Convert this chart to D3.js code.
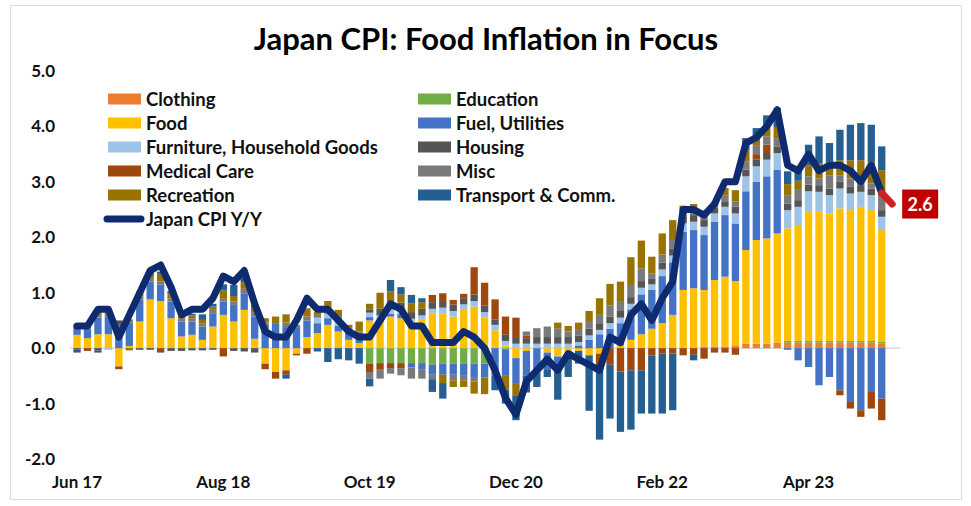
<!DOCTYPE html>
<html>
<head>
<meta charset="utf-8">
<script src="https://cdn.jsdelivr.net/npm/d3@7"></script>
<style>
  body { margin: 0; background: #fff; }
  text { font-family: Lato, "Open Sans", sans-serif; font-weight: 700; fill: #111; }
</style>
</head>
<body>
<svg id="chart" width="971" height="506"></svg>
<script>
// ---- Data: contributions to Japan CPI Y/Y (ppt), Jun 2017 – Nov 2023; headline to Dec 2023 ----
const seriesNames = ["Clothing", "Education", "Food", "Fuel, Utilities", "Furniture, Household Goods",
                     "Housing", "Medical Care", "Misc", "Recreation", "Transport & Comm."];
const seriesColors = ["#ED7D31", "#70AD47", "#FFC000", "#4472C4", "#9DC3E6",
                      "#555555", "#9E480E", "#7A7A7A", "#997300", "#255E91"];
const tickLabels = ["Jun 17", "Aug 18", "Oct 19", "Dec 20", "Feb 22", "Apr 23"];

const clothing = [0,0,0,0,0,0,0,0,0,0, 0,0,0,0,0,0,0,0,0,0, 0,0,0,0,0,0,0,0,0,0,
  0,0,0,0,0,0,0,0,0,0, 0,0,0,0,0,0,0,0,0,0, 0,0,0,0,0,0,0,0,0,0,
  .03,.03,.03,.05,.08,.08,.08,.10,.10,.10, .10,.10,.10,.10,.10,.10,.10,.08];
const education = [0,0,0,0,0,0,0,0,0,0, 0,0,0,0,0,0,0,0,0,0, 0,0,0,0,0,0,0,0,-.28,-.27,
  -.27,-.27,-.27,-.27,-.30,-.28,-.28,-.28,-.28,-.28, 0,-.02,0,0,0,0,0,0,0,0, 0,0,0,0,0,0,0,0,0,0,
  0,0,0,0,0,0,0,0,.03,.03, .03,.03,.03,.03,.03,.03,.03,.03];
const food = [.24,.18,.25,.25,-.33,.04,.48,.88,.85,.54, .21,.24,.15,.39,.60,.48,.69,.17,-.28,-.43,
  -.40,-.10,.20,.27,.42,.30,.15,.09,.50,.51, .57,.54,.45,.51,.63,.63,.57,.69,.75,.55,
  .32,.05,-.18,-.05,0,-.08,-.15,-.10,-.05,-.13, -.10,0,.05,.15,.25,.35,.45,.60,1.05,1.08,
  1.02,1.20,1.26,1.16,1.69,1.87,1.90,1.97,2.03,2.09, 2.33,2.33,2.30,2.39,2.36,2.42,2.36,2.02];
const fuel = [.16,.17,.30,.32,.42,.42,.40,.32,.30,.30, .27,.24,.24,.24,.24,.30,.30,.40,.42,.45,
  .38,.38,.30,.18,.12,.10,.12,.10,.06,0, .05,.08,-.08,-.12,-.18,-.20,-.20,-.22,-.24,-.25,
  -.50,-.48,-.45,-.45,-.45,-.30,-.20,-.08,.05,.15, .25,.35,.40,.55,.72,.70,.85,.95,1.05,1.05,
  .99,1.05,1.11,1.04,1.06,1.05,1.12,1.15,-.03,-.22, -.34,-.67,-.52,-.76,-.97,-1.12,-.79,-.91];
const furniture = [0,0,0,-.03,0,0,0,0,0,0, 0,0,0,0,0,0,0,0,0,0,
  0,0,0,.10,.08,.08,.05,.05,.08,.08, .08,.08,.08,.08,.08,.10,.10,.10,.10,.10,
  .10,.08,.08,.08,.08,.08,.08,.08,.06,.08, .08,.10,.10,.10,.12,.10,.12,.12,.15,.15,
  .15,.15,.15,.18,.27,.28,.30,.30,.33,.33, .37,.36,.33,.36,.30,.27,.27,.24];
const housing = [-.03,0,-.04,0,.08,0,-.03,-.03,0,-.05, -.05,-.04,-.04,-.03,0,-.05,-.06,-.08,0,0,
  0,0,0,0,0,0,0,0,.06,.12, .12,.12,.12,.12,.12,.12,.12,.10,.12,.12,
  .10,.12,.12,.10,.12,.12,.12,.12,.12,.12, .12,.12,.12,.12,.12,.10,.12,.12,.12,.12,
  .12,.11,.10,.12,.12,.12,.12,.12,.12,.12, .12,.12,.12,.12,.12,.12,.12,.12];
const medical = [0,-.05,0,0,-.05,0,0,0,-.08,0, 0,0,0,0,-.15,0,0,0,-.10,-.12,
  -.08,-.03,-.10,0,0,0,0,0,-.15,-.12, -.09,-.10,0,0,.13,.14,.08,.09,.49,.41,
  .36,.32,.35,.05,0,0,0,0,0,0, -.30,-.30,-.42,-.40,-.40,-.13,-.10,-.10,-.13,-.12,
  -.19,-.08,-.08,-.12,0,.10,.15,0,0,0, 0,0,0,-.09,-.12,-.12,-.30,-.39];
const misc = [.03,.03,.05,.05,0,.06,.05,.05,.05,.06, .05,.06,.06,.06,.05,.06,.08,.08,.04,0,
  .08,.04,.07,.05,.08,.10,.06,.06,-.12,-.16, -.10,-.12,-.20,-.16,-.08,0,-.10,-.08,-.08,0,
  0,0,0,.07,.16,.19,.16,.10,.10,.14, .15,.20,.18,.22,.23,.10,.15,.16,.10,.10,
  .10,.10,.10,.10,.15,.15,.15,.15,.15,.20, .15,.12,.24,.12,.15,.15,.09,.27];
const recreation = [0,0,.05,.05,0,-.04,.04,.05,.14,.08, .05,.05,.06,.06,.15,.10,.12,.08,.08,.12,
  .15,0,.15,.05,.15,.11,.04,.18,.10,.29, .20,.15,.16,.12,0,-.15,-.12,-.12,-.22,-.30,
  0,-.25,-.22,0,0,0,.10,.10,.13,.18, .30,.39,.35,.50,.50,.30,.38,.36,.10,.10,
  0,0,.14,.20,.20,.15,.20,.20,.20,.15, .20,.27,.24,.27,.33,.30,.39,.45];
const transport = [-.05,0,-.04,0,0,0,.05,.08,.04,.05, 0,.03,.10,.05,.11,.20,.08,.05,0,0,
  -.07,0,0,-.06,-.25,-.20,-.22,-.28,-.14,0, .21,.13,.15,.07,-.23,-.28,0,0,0,0,
  -.26,-.25,-.45,-.30,-.25,-.14,-.58,-.34,-.23,-1.00, -1.25,-.97,-1.09,-1.07,-.78,-1.05,-1.08,-1.02,0,-.10,
  0,0,0,0,.22,.17,.18,.34,.23,.20, .37,.49,.34,.55,.64,.67,.67,.43];
const cpiYoY = [0.4,0.4,0.7,0.7,0.2,0.6,1.0,
  1.4,1.5,1.1,0.6,0.7,0.7,0.9,1.3,1.2,1.4,0.8,0.3,
  0.2,0.2,0.5,0.9,0.7,0.7,0.5,0.3,0.2,0.2,0.5,0.8,
  0.7,0.4,0.4,0.1,0.1,0.1,0.3,0.2,0.0,-0.4,-0.9,-1.2,
  -0.6,-0.4,-0.2,-0.4,-0.1,-0.2,-0.3,-0.4,0.2,0.1,0.6,0.8,
  0.5,0.9,1.2,2.5,2.5,2.4,2.6,3.0,3.0,3.7,3.8,4.0,
  4.3,3.3,3.2,3.5,3.2,3.3,3.3,3.2,3.0,3.3,2.8,2.6];

const seriesValues = [clothing, education, food, fuel, furniture, housing, medical, misc, recreation, transport];

// Month categories Jun 2017 .. Dec 2023
const fmt = d3.timeFormat("%b %y");
const months = d3.timeMonth.range(new Date(2017, 5, 1), new Date(2024, 0, 1)).map(fmt);

// ---- Layout ----
const svg = d3.select("#chart");

svg.append("rect")
  .attr("x", 10.5).attr("y", 5.5).attr("width", 951).attr("height", 494)
  .attr("fill", "none").attr("stroke", "#dcdcdc");

const x = d3.scaleBand().domain(months).range([71.8, 897.4]).paddingInner(0.3).paddingOuter(0.15);
const y = d3.scaleLinear().domain([-2, 5]).range([459, 71]);

// Title
svg.append("text")
  .attr("x", 486).attr("y", 50).attr("text-anchor", "middle")
  .style("font-size", "31px").style("fill", "#000")
  .text("Japan CPI: Food Inflation in Focus");

// Axes
const yAxis = svg.append("g").attr("transform", "translate(55,0)")
  .call(d3.axisLeft(y).tickValues(d3.range(-2, 6)).tickSize(0).tickPadding(0)
        .tickFormat(d => d.toFixed(1)));
yAxis.select(".domain").remove();
yAxis.selectAll("text").style("font-size", "17px");

const xAxis = svg.append("g").attr("transform", "translate(0,476)")
  .call(d3.axisBottom(x).tickValues(tickLabels).tickSize(0).tickPadding(0));
xAxis.select(".domain").remove();
xAxis.selectAll("text").style("font-size", "17px");

// Zero line
svg.append("line")
  .attr("x1", 70).attr("x2", 900).attr("y1", y(0)).attr("y2", y(0))
  .attr("stroke", "#d9d9d9").attr("stroke-width", 1.5);

// Stacked contribution bars
const rows = months.slice(0, clothing.length).map((m, i) => {
  const r = { month: m };
  seriesNames.forEach((k, s) => r[k] = seriesValues[s][i]);
  return r;
});
const stacked = d3.stack().keys(seriesNames).offset(d3.stackOffsetDiverging)(rows);

svg.append("g").selectAll("g")
  .data(stacked)
  .join("g")
  .attr("fill", (d, i) => seriesColors[i])
  .selectAll("rect")
  .data(d => d.filter(p => p[1] !== p[0]))
  .join("rect")
  .attr("x", d => x(d.data.month))
  .attr("width", x.bandwidth())
  .attr("y", d => y(Math.max(d[0], d[1])))
  .attr("height", d => Math.abs(y(d[0]) - y(d[1])));

// Headline CPI line
const cx = m => x(m) + x.bandwidth() / 2;
const pts = months.map((m, i) => [cx(m), y(cpiYoY[i])]);
const line = d3.line();
const n = pts.length;
svg.append("path")
  .attr("d", line(pts.slice(0, n - 1)))
  .attr("fill", "none").attr("stroke", "#0E2B70").attr("stroke-width", 7)
  .attr("stroke-linejoin", "round").attr("stroke-linecap", "round");
svg.append("path")
  .attr("d", line(pts.slice(n - 2)))
  .attr("fill", "none").attr("stroke", "#D01F1F").attr("stroke-width", 7)
  .attr("stroke-linecap", "round");

// Latest value tag
const last = pts[n - 1];
svg.append("rect")
  .attr("x", last[0] + 10).attr("y", last[1] - 14.5).attr("width", 36).attr("height", 29)
  .attr("fill", "#C00000");
svg.append("text")
  .attr("x", last[0] + 28).attr("y", last[1]).attr("dy", "0.36em").attr("text-anchor", "middle")
  .style("font-size", "18px").style("fill", "#fff")
  .text(cpiYoY[n - 1].toFixed(1));

// Legend: two columns, row-major in series order, CPI line last
const legend = svg.append("g");
const colX = [108, 418], rowY0 = 99, rowH = 24;
seriesNames.forEach((name, i) => {
  const gx = colX[i % 2], gy = rowY0 + Math.floor(i / 2) * rowH;
  legend.append("rect").attr("x", gx).attr("y", gy - 5.5).attr("width", 33).attr("height", 11)
    .attr("fill", seriesColors[i]);
  legend.append("text").attr("x", gx + 38).attr("y", gy).attr("dy", "0.36em")
    .style("font-size", "18.5px").text(name);
});
const ly = rowY0 + 5 * rowH;
legend.append("line").attr("x1", 107).attr("x2", 141).attr("y1", ly).attr("y2", ly)
  .attr("stroke", "#0E2B70").attr("stroke-width", 7).attr("stroke-linecap", "round");
legend.append("text").attr("x", 146).attr("y", ly).attr("dy", "0.36em")
  .style("font-size", "18.5px").text("Japan CPI Y/Y");
</script>
</body>
</html>
